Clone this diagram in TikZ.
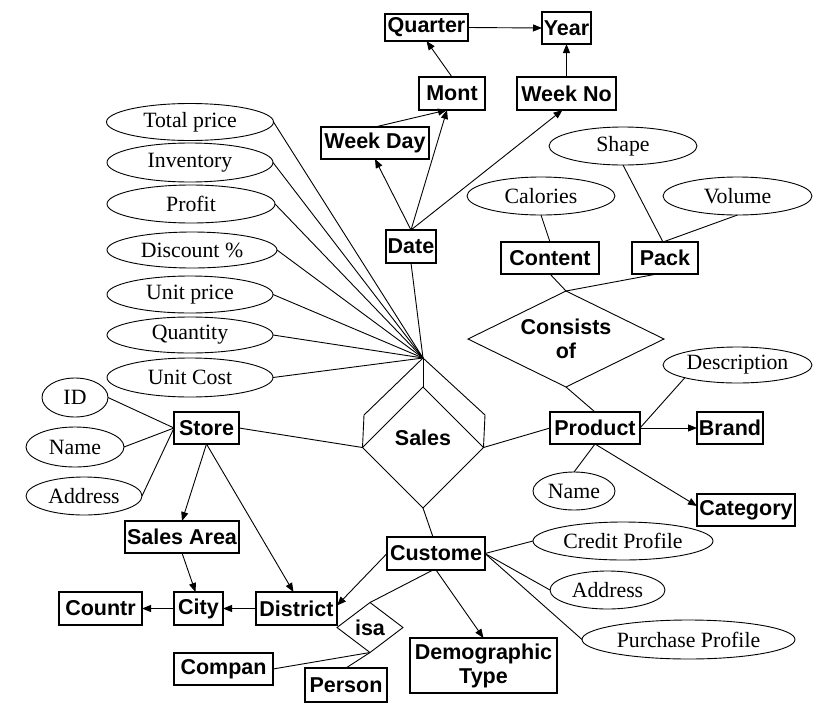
\documentclass[tikz,border=0pt]{standalone}
\usepackage{fontspec}
\setmainfont{Liberation Serif}
\newfontfamily\boxfont{Liberation Sans}
\usetikzlibrary{shapes.geometric,arrows.meta}
\begin{document}
\begin{tikzpicture}[x=1pt,y=-1pt,
  every node/.style={inner sep=0pt,outer sep=0pt},
  ent/.style={draw,line width=1.2pt,rectangle,font=\boxfont\bfseries\fontsize{21.5}{24}\selectfont,align=center},
  attr/.style={draw,line width=0.9pt,ellipse,font=\fontsize{21.8}{24}\selectfont},
  rel/.style={draw,line width=0.9pt,diamond,font=\boxfont\bfseries\fontsize{21.5}{24}\selectfont,align=center},
  rellabel/.style={font=\boxfont\bfseries\fontsize{21.5}{24}\selectfont},
  ln/.style={line width=0.9pt},
  arr/.style={line width=0.9pt,-{Triangle[length=9pt,width=7pt]}},
]
\useasboundingbox[fill=white] (0,0) rectangle (823,713);

% entities
\node[ent,minimum width=83pt,minimum height=27pt] (quarter) at (426.5,27.5) {Quarter};
\node[ent,minimum width=49pt,minimum height=32pt] (year) at (566.5,28) {Year};
\node[ent,minimum width=66pt,minimum height=33pt] (mont) at (452,93.5) {Mont};
\node[ent,minimum width=99pt,minimum height=33pt] (weekno) at (566.5,93.5) {Week No};
\node[ent,minimum width=108pt,minimum height=32pt] (weekday) at (375,143) {Week Day};
\node[ent,minimum width=50pt,minimum height=33pt] (date) at (411,246.5) {Date};
\node[ent,minimum width=98pt,minimum height=32pt] (content) at (550,258) {Content};
\node[ent,minimum width=66pt,minimum height=32pt] (pack) at (665,258) {Pack};
\node[ent,minimum width=90pt,minimum height=32pt] (product) at (595,428) {Product};
\node[ent,minimum width=66pt,minimum height=32pt] (brand) at (730,428) {Brand};
\node[ent,minimum width=98pt,minimum height=32pt] (category) at (746,510) {Category};
\node[ent,minimum width=65pt,minimum height=32pt] (store) at (206.5,428) {Store};
\node[ent,minimum width=114pt,minimum height=32pt] (salesarea) at (182,537) {Sales Area};
\node[ent,minimum width=83pt,minimum height=33pt] (countr) at (100.5,608.5) {Countr};
\node[ent,minimum width=49pt,minimum height=33pt] (city) at (198.5,608.5) {City};
\node[ent,minimum width=81pt,minimum height=33pt] (district) at (296.5,608.5) {District};
\node[ent,minimum width=98pt,minimum height=33pt] (custome) at (436,553.5) {Custome};
\node[ent,minimum width=99pt,minimum height=32pt] (compan) at (223.5,669) {Compan};
\node[ent,minimum width=82pt,minimum height=34pt] (person) at (346,685) {Person};
\node[ent,minimum width=147pt,minimum height=55pt] (demog) at (483.5,665.5) {Demographic\\Type};

% relationships
\node[rel,aspect=1,minimum width=121pt,minimum height=121pt,label={[rellabel,yshift=10pt]center:Sales}] (sales) at (423,447.5) {};
\node[rel,aspect=2.04,minimum width=196pt,minimum height=96pt] (consists) at (566,339) {Consists\\of};
\node[rel,aspect=1.32,minimum width=66pt,minimum height=50pt] (isa) at (370,627.5) {isa};

% attributes
\node[attr,minimum width=167pt,minimum height=37pt] (tp) at (190,122) {Total price};
\node[attr,minimum width=166pt,minimum height=39pt] (inv) at (190,162.5) {Inventory};
\node[attr,minimum width=168pt,minimum height=38pt] (profit) at (191,204) {Profit};
\node[attr,minimum width=170pt,minimum height=36pt] (disc) at (192,250) {Discount \%};
\node[attr,minimum width=166pt,minimum height=37pt] (uprice) at (190,294.5) {Unit price};
\node[attr,minimum width=166pt,minimum height=36pt] (qty) at (190,335) {Quantity};
\node[attr,minimum width=166pt,minimum height=39pt] (ucost) at (190,377.5) {Unit Cost};
\node[attr,minimum width=66pt,minimum height=39pt] (sid) at (75,397.5) {ID};
\node[attr,minimum width=98pt,minimum height=40pt] (sname) at (75,447) {Name};
\node[attr,minimum width=116pt,minimum height=38pt] (saddr) at (84,496) {Address};
\node[attr,minimum width=148pt,minimum height=38pt] (shape) at (623,146) {Shape};
\node[attr,minimum width=148pt,minimum height=38pt] (calories) at (541,196) {Calories};
\node[attr,minimum width=149pt,minimum height=38pt] (volume) at (737.5,196) {Volume};
\node[attr,minimum width=149pt,minimum height=36pt] (descr) at (737.5,365) {Description};
\node[attr,minimum width=82pt,minimum height=38pt] (pname) at (574,491) {Name};
\node[attr,minimum width=180pt,minimum height=38pt] (credit) at (623,541) {Credit Profile};
\node[attr,minimum width=115pt,minimum height=38pt] (caddr) at (607.5,590) {Address};
\node[attr,minimum width=213pt,minimum height=39pt] (purchase) at (688.5,639.5) {Purchase Profile};

% sales aggregation lines
\coordinate (hub) at (423,358);
\coordinate (sl) at (364,415);
\coordinate (sr) at (485,415);
\draw[ln] (hub) -- (sales.north);
\draw[ln] (hub) -- (sl) -- (sales.west);
\draw[ln] (hub) -- (sr) -- (sales.east);
\foreach \a in {tp,inv,profit,disc,uprice,qty,ucost} \draw[ln] (\a.east) -- (hub);
\draw[ln] (date.south) -- (hub);

% date hierarchy
\draw[arr] (quarter.east) -- (year.west);
\draw[arr] (mont.north) -- (quarter.south);
\draw[arr] (weekno.north) -- (year.south);
\draw[arr] (weekday.north) -- ([xshift=-5pt]mont.south);
\draw[arr] (date.north) -- (weekday.south);
\draw[arr] (date.north) -- ([xshift=-5pt]mont.south);
\draw[arr] (date.north) -- ([xshift=-4pt]weekno.south);

% product side
\draw[ln] (calories.south) -- (content.north);
\draw[ln] (shape.south) -- ([xshift=-2pt]pack.north);
\draw[ln] (volume.south) -- ([xshift=-2pt]pack.north);
\draw[ln] (content.south) -- (consists.north);
\draw[ln] ([xshift=-8pt]pack.south) -- (consists.north);
\draw[ln] (consists.south) -- (product.north);
\draw[ln] (descr.south west) -- (product.east);
\draw[arr] (product.east) -- (brand.west);
\draw[arr] (product.south) -- ([yshift=4pt]category.west);
\draw[ln] (product.south) -- (pname.north);
\draw[ln] (sales.east) -- (product.west);

% store side
\draw[ln] (store.east) -- (sales.west);
\draw[ln] (sid.east) -- (store.west);
\draw[ln] (sname.east) -- (store.west);
\draw[ln] (saddr.east) -- (store.west);
\draw[arr] (store.south) -- (salesarea.north);
\draw[arr] (store.south) -- ([xshift=-3pt]district.north);
\draw[arr] (salesarea.south) -- ([xshift=-3pt]city.north);
\draw[arr] (city.west) -- (countr.east);
\draw[arr] (district.west) -- (city.east);

% customer side
\draw[ln] (sales.south) -- ([xshift=-3pt]custome.north);
\draw[arr] (custome.west) -- ([yshift=3pt]district.east);
\draw[ln] ([xshift=-3pt]custome.south) -- (isa.north);
\draw[arr] (custome.south) -- (demog.north);
\draw[ln] (custome.east) -- (credit.west);
\draw[ln] (custome.east) -- (caddr.west);
\draw[ln] (custome.east) -- (purchase.west);
\draw[ln] (isa.south) -- (compan.east);
\draw[ln] (isa.south) -- (person.north);
\end{tikzpicture}
\end{document}
